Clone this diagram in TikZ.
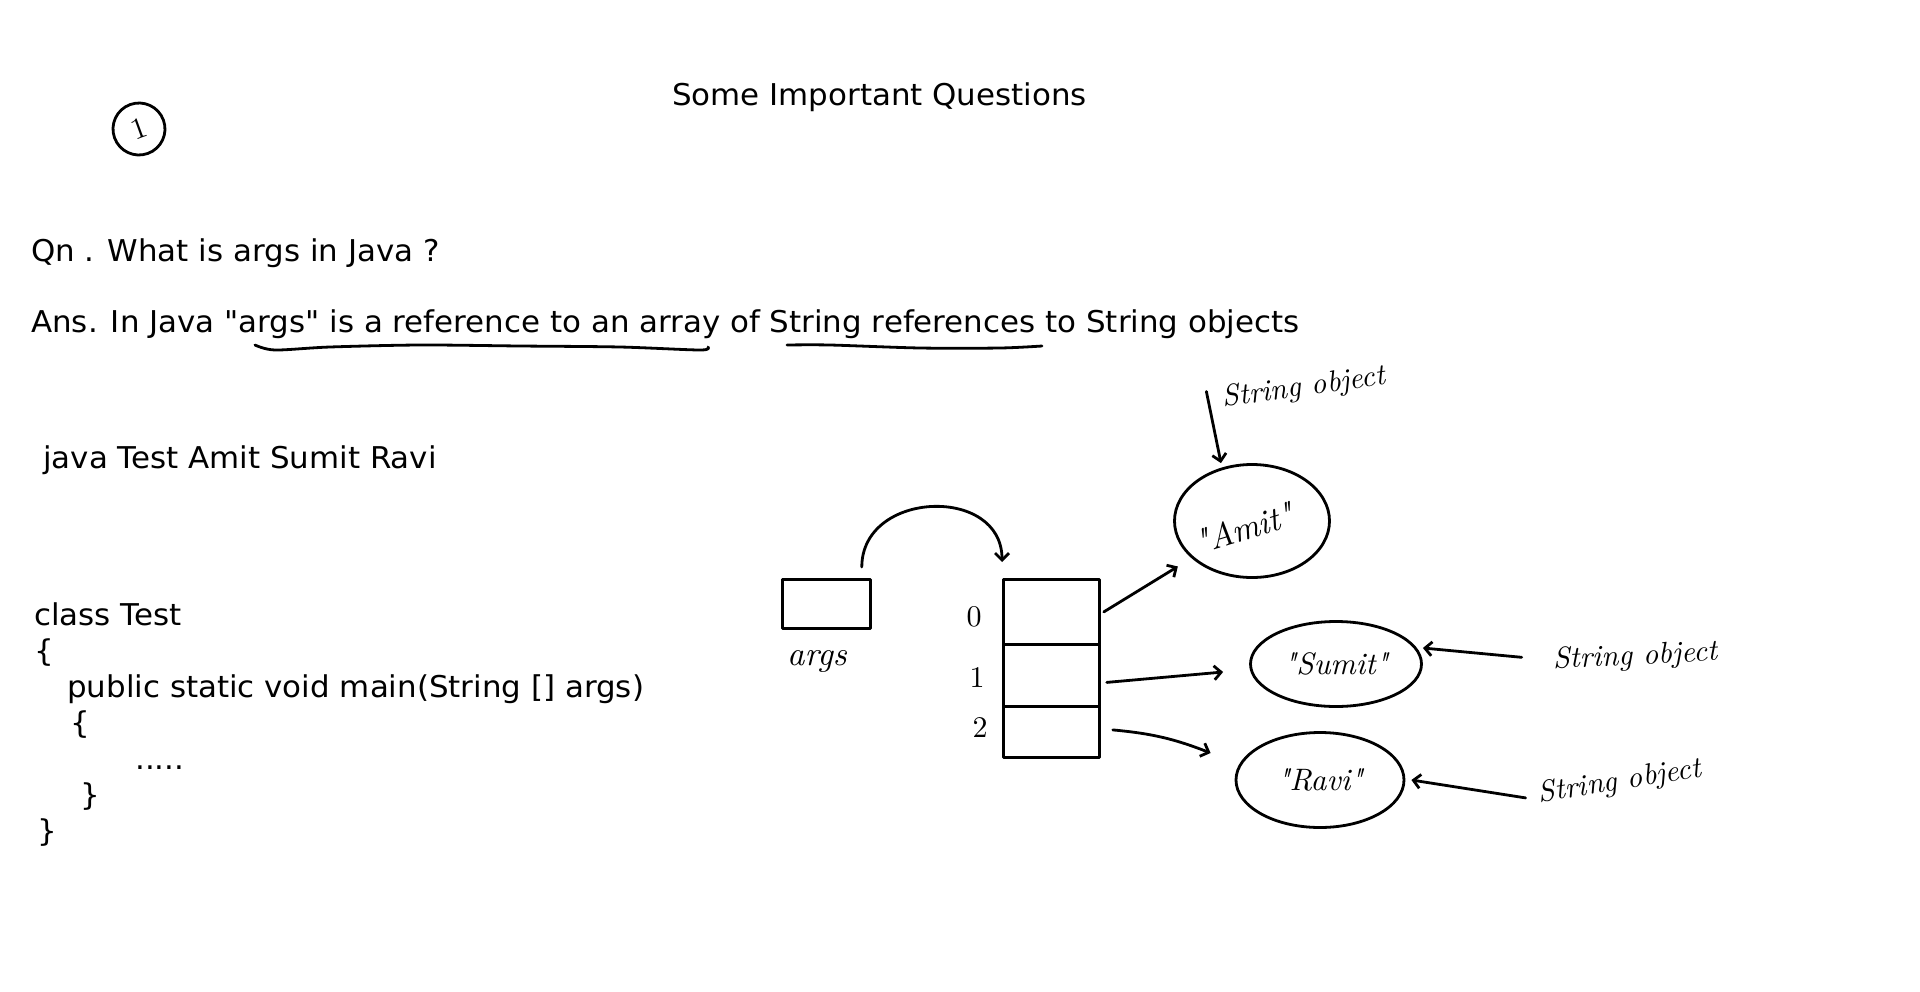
\documentclass[tikz,border=0pt]{standalone}
\usepackage{fontspec}
\newfontfamily\printfont{DejaVu Sans}[FakeStretch=1.03]
\newfontfamily\handfont{lmroman10-italic.otf}
\newfontfamily\handupright{lmroman10-regular.otf}
\usetikzlibrary{arrows.meta,shapes.geometric}

\begin{document}
\begin{tikzpicture}[x=1pt,y=-1pt,
  print/.style={font=\printfont\fontsize{30}{36}\selectfont, anchor=base west, inner sep=0pt},
  hand/.style={font=\handfont\fontsize{30}{36}\selectfont, inner sep=0pt},
  digit/.style={font=\handupright\fontsize{30}{36}\selectfont, inner sep=0pt},
  inkline/.style={line width=2.8pt, line cap=round, line join=round},
  harrow/.style={inkline, -{Straight Barb[length=7pt,width=14pt]}},
  cell/.style={draw, inkline, minimum width=96pt, minimum height=#1, inner sep=0pt, anchor=north west},
  blob/.style={draw, inkline, ellipse, inner sep=0pt, font=\handfont\fontsize{31}{36}\selectfont}
]
% page
\fill[white] (0,0) rectangle (1920,991);
\useasboundingbox (0,0) rectangle (1920,991);

% heading and question number
\node[print] (title) at (672,105) {Some Important Questions};
\node[draw, inkline, circle, minimum size=52pt, inner sep=0pt,
      font=\handupright\fontsize{30}{36}\selectfont, rotate=20] (qnum) at (139,129) {1};

% question and answer
\node[print] (qn)  at (31,261) {Qn . What is args in Java ?};
\node[print] (ans) at (31,332) {Ans. In Java "args" is a reference to an array of String references to String objects};
\draw[inkline] plot[smooth] coordinates {(255,345) (275,350) (330,347) (420,345) (520,346) (620,347) (700,350) (708,347)};
\draw[inkline] plot[smooth] coordinates {(787,345) (830,345) (920,348) (1000,348) (1042,346)};

% command line
\node[print] (cmd) at (43,468) {java Test Amit Sumit Ravi};

% program skeleton
\node[print] (code1) at (34,625) {class Test};
\node[print] (code2) at (34,661) {\{};
\node[print] (code3) at (67,697) {public static void main(String [] args)};
\node[print] (code4) at (70,733) {\{};
\node[print] (code5) at (135,769) {.....};
\node[print] (code6) at (80,805) {\}};
\node[print] (code7) at (37,841) {\}};

% the args reference
\node[draw, inkline, minimum width=88pt, minimum height=49pt, inner sep=0pt, anchor=north west] (args) at (781,578) {};
\node[hand, font=\handfont\fontsize{34}{40}\selectfont] (argslabel) at (817,661) {args};

% the array of String references
\node[cell=65pt] (c0) at (1002,578) {};
\node[cell=62pt] (c1) at (1002,643) {};
\node[cell=51pt] (c2) at (1002,705) {};
\node[digit] (i0) at (974,617) {0};
\node[digit] (i1) at (977,678) {1};
\node[digit] (i2) at (980,727) {2};

\draw[harrow] ([xshift=-10pt,yshift=11pt]args.north east) to[out=90,in=90,looseness=1.4] ([yshift=16pt]c0.north west);

% String objects
\node[blob, minimum width=155pt, minimum height=113pt] (amit) at (1252,521) {};
\node[hand, font=\handfont\fontsize{34}{40}\selectfont, rotate=17] (amittext) at (1244,528) {"Amit"};
\node[blob, minimum width=171pt, minimum height=85pt] (sumit) at (1336,664) {"Sumit"};
\node[blob, minimum width=168pt, minimum height=95pt] (ravi) at (1320,780) {"Ravi"};

% references from the array cells
\draw[harrow, shorten >=16pt] ([xshift=3pt]c0.east) -- (amit);
\draw[harrow] ([xshift=6pt,yshift=-7pt]c1.east) -- ([xshift=-26pt,yshift=-8pt]sumit.west);
\draw[harrow] ([xshift=12pt,yshift=2pt]c2.east) to[bend left=8] ([xshift=-24pt,yshift=27pt]ravi.west);

% labels
\node[hand, rotate=8] (lab1) at (1304,388) {String object};
\node[hand, rotate=3] (lab2) at (1635,657) {String object};
\node[hand, rotate=9] (lab3) at (1620,782) {String object};
\draw[harrow] ([xshift=-16pt,yshift=8pt]lab1.west) -- ([xshift=-31pt]amit.north);
\draw[harrow] ([xshift=-31pt,yshift=4pt]lab2.west) -- ([yshift=16pt]sumit.east);
\draw[harrow] ([xshift=-13pt,yshift=-3pt]lab3.west) -- ([xshift=6pt]ravi.east);
\end{tikzpicture}
\end{document}
